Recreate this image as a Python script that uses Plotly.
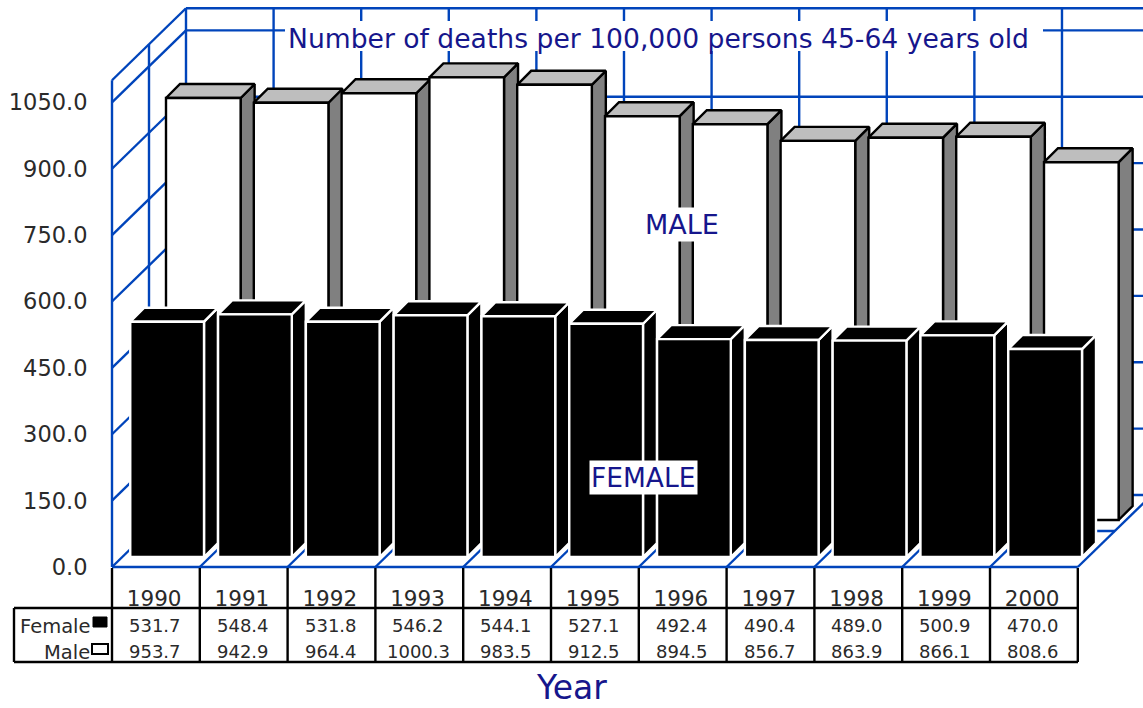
import plotly.graph_objects as go

years = ["1990", "1991", "1992", "1993", "1994", "1995", "1996", "1997", "1998", "1999", "2000"]
female = [531.7, 548.4, 531.8, 546.2, 544.1, 527.1, 492.4, 490.4, 489.0, 500.9, 470.0]
male = [953.7, 942.9, 964.4, 1000.3, 983.5, 912.5, 894.5, 856.7, 863.9, 866.1, 808.6]
y_ticks = [0, 150, 300, 450, 600, 750, 900, 1050]
y_top = 1100

PX_X = 87.8      # pixels per category
PX_Y = 0.4425    # pixels per value unit
BLUE = "#0044BB"
NAVY = "#16168C"
TEXT = "#2a2a2a"
FONT = "DejaVu Sans"
W, H = 1143, 708
L, B = 104, 578  # plot area left edge, bottom edge (pixels)


def px(v):
    return v / PX_X


def py(v):
    return v / PX_Y


xr = [px(L - 112), px(W - 112)]
yr = [py(567 - B), py(567)]


def pap_x(p):
    return (p - L) / (W - L)


def pap_y(p):
    return (B - p) / B


WALL_DX, WALL_DY = px(74), py(72)
shapes = []


def grid(x0, y0, x1, y1):
    shapes.append(dict(type="line", xref="x", yref="y", x0=x0, y0=y0, x1=x1, y1=y1,
                       layer="below", line=dict(color=BLUE, width=2.4)))


n = len(years)
# floor
grid(0, 0, n, 0)
grid(WALL_DX / 2, WALL_DY / 2, n + WALL_DX / 2, WALL_DY / 2)
grid(WALL_DX, WALL_DY, n + WALL_DX, WALL_DY)
for i in range(n + 1):
    grid(i, 0, i + WALL_DX, WALL_DY)
# left wall
grid(0, 0, 0, y_top)
grid(WALL_DX / 2, WALL_DY / 2, WALL_DX / 2, y_top + WALL_DY / 2)
grid(WALL_DX, WALL_DY, WALL_DX, y_top + WALL_DY)
for v in y_ticks[1:] + [y_top]:
    grid(0, v, WALL_DX, v + WALL_DY)
# back wall
for v in y_ticks[1:] + [y_top]:
    grid(WALL_DX, v + WALL_DY, n + WALL_DX, v + WALL_DY)
for i in range(1, n + 1):
    grid(WALL_DX + i * 0.9977, WALL_DY, WALL_DX + i * 0.9977, y_top + WALL_DY)

# white box behind the title, masks the grid
shapes.append(dict(type="rect", xref="x", yref="y", layer="below",
                   x0=px(285 - 112), x1=px(1043 - 112), y0=py(567 - 51), y1=py(567 - 21),
                   fillcolor="white", line=dict(width=0)))


# table
def tline(x0, y0, x1, y1):
    shapes.append(dict(type="line", xref="paper", yref="paper",
                       x0=pap_x(x0), y0=pap_y(y0), x1=pap_x(x1), y1=pap_y(y1),
                       line=dict(color="black", width=2.4)))


tline(14, 608, 1078, 608)
tline(14, 662, 1078, 662)
tline(14, 608, 14, 662)
for i in range(n + 1):
    tline(112 + i * PX_X, 568, 112 + i * PX_X, 662)
shapes.append(dict(type="rect", xref="paper", yref="paper", x0=pap_x(93), x1=pap_x(107),
                   y0=pap_y(627), y1=pap_y(617), fillcolor="black", line=dict(color="black", width=1)))
shapes.append(dict(type="rect", xref="paper", yref="paper", x0=pap_x(92), x1=pap_x(108),
                   y0=pap_y(654), y1=pap_y(644), fillcolor="white", line=dict(color="black", width=2)))

fig = go.Figure()
# invisible anchor on the base axes so that the base subplot exists
fig.add_trace(go.Scatter(x=[0], y=[0], mode="markers", marker=dict(opacity=0), hoverinfo="skip", showlegend=False))


def add_depth(vals, x_start, width, base, side_fill, top_fill, edge, xa, ya):
    dx, dy = px(14), py(14)
    for i, v in enumerate(vals):
        xl = x_start + i - width / 2
        xh = x_start + i + width / 2
        top = base + v
        fig.add_trace(go.Scatter(
            x=[xh, xh + dx, xh + dx, xh, xh], y=[base, base + dy, top + dy, top, base],
            mode="lines", fill="toself", fillcolor=side_fill, line=dict(color=edge, width=2.4),
            xaxis=xa, yaxis=ya, hoverinfo="skip", showlegend=False))
        fig.add_trace(go.Scatter(
            x=[xl, xl + dx, xh + dx, xh, xl], y=[top, top + dy, top + dy, top, top],
            mode="lines", fill="toself", fillcolor=top_fill, line=dict(color=edge, width=2.4),
            xaxis=xa, yaxis=ya, hoverinfo="skip", showlegend=False))


def add_front(vals, x_start, width, base, fill, edge, xa, ya, name):
    fig.add_trace(go.Bar(
        x=[x_start + i for i in range(len(vals))], y=vals, base=base, width=width, name=name,
        marker=dict(color=fill, line=dict(color=edge, width=2.4)),
        xaxis=xa, yaxis=ya, showlegend=False))


MALE_BASE = py(47)
FEMALE_BASE = py(10)
add_depth(male, 1.04, 0.85, MALE_BASE, "#808080", "#BEBEBE", "black", "x", "y")
add_front(male, 1.04, 0.85, MALE_BASE, "white", "black", "x2", "y2", "Male")
add_depth(female, 0.628, 0.84, FEMALE_BASE, "black", "black", "white", "x3", "y3")
add_front(female, 0.628, 0.84, FEMALE_BASE, "black", "white", "x4", "y4", "Female")

annotations = []


def note(text, x, y, size, color=TEXT, xref="paper", xanchor="center", bg=None, pad=0):
    annotations.append(dict(text=text, x=x, y=y, xref=xref, yref="paper", xanchor=xanchor,
                            yanchor="middle", showarrow=False, bgcolor=bg, borderpad=pad,
                            font=dict(family=FONT, size=size, color=color)))


note("Number of deaths per 100,000 persons 45-64 years old", pap_x(658), pap_y(38), 26.6, NAVY)
note("MALE", pap_x(682), pap_y(224), 27, NAVY, bg="white", pad=1)
note("FEMALE", pap_x(643), pap_y(477), 26.5, NAVY, bg="white", pad=1)
note("Year", pap_x(571), pap_y(687), 33, NAVY)
note("Female", pap_x(92), pap_y(626), 19.5, xanchor="right")
note("Male", pap_x(91), pap_y(652), 19.5, xanchor="right")
for i in range(n):
    note(f"{female[i]:.1f}", i + 0.49, pap_y(625), 18, xref="x")
    note(f"{male[i]:.1f}", i + 0.49, pap_y(651), 18, xref="x")

hidden = dict(visible=False, range=xr, fixedrange=True)
hidden_y = dict(visible=False, range=yr, fixedrange=True)
fig.update_layout(
    width=W, height=H, autosize=False,
    margin=dict(l=L, r=0, t=0, b=H - B, pad=0),
    paper_bgcolor="white", plot_bgcolor="white",
    showlegend=False, barmode="overlay",
    shapes=shapes, annotations=annotations,
    xaxis=dict(range=xr, showgrid=False, zeroline=False, showline=False,
               tickmode="array", tickvals=[i + 0.48 for i in range(n)], ticktext=years,
               ticks="outside", ticklen=1, tickcolor="rgba(0,0,0,0)",
               tickfont=dict(family=FONT, size=21.5, color=TEXT)),
    yaxis=dict(range=yr, showgrid=False, zeroline=False, showline=False,
               tickmode="array", tickvals=y_ticks, ticktext=[f"{v:.1f}" for v in y_ticks],
               ticks="outside", ticklen=11, tickcolor="rgba(0,0,0,0)",
               tickfont=dict(family=FONT, size=22.5, color=TEXT)),
    xaxis2=dict(hidden, overlaying="x", anchor="y2"),
    yaxis2=dict(hidden_y, overlaying="y", anchor="x2"),
    xaxis3=dict(hidden, overlaying="x", anchor="y3"),
    yaxis3=dict(hidden_y, overlaying="y", anchor="x3"),
    xaxis4=dict(hidden, overlaying="x", anchor="y4"),
    yaxis4=dict(hidden_y, overlaying="y", anchor="x4"),
)
fig.write_html("out.html", config=dict(displayModeBar=False),
               post_script="document.body.style.margin='0';document.documentElement.style.overflow='hidden';")
